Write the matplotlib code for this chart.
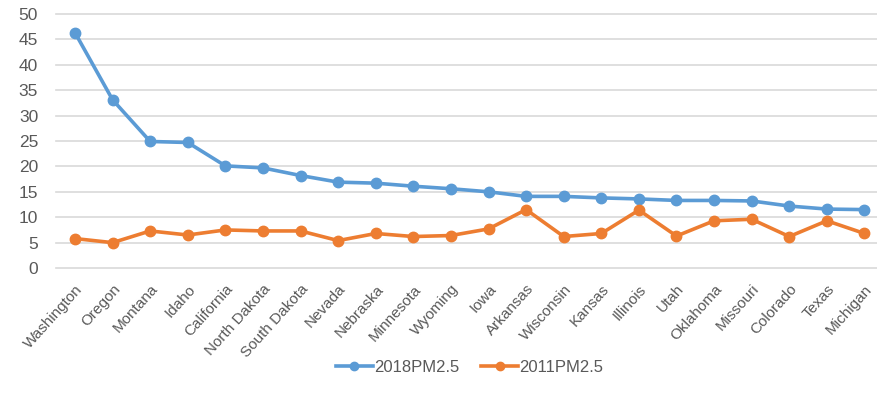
import matplotlib.pyplot as plt
import numpy as np

plt.rcParams['font.family'] = ['Liberation Sans', 'DejaVu Sans']

states = ['Washington', 'Oregon', 'Montana', 'Idaho', 'California', 'North Dakota',
          'South Dakota', 'Nevada', 'Nebraska', 'Minnesota', 'Wyoming', 'Iowa',
          'Arkansas', 'Wisconsin', 'Kansas', 'Illinois', 'Utah', 'Oklahoma',
          'Missouri', 'Colorado', 'Texas', 'Michigan']
pm2018 = [46.3, 33.1, 24.9, 24.7, 20.1, 19.7, 18.2, 16.9, 16.7, 16.1, 15.6, 15.0,
          14.1, 14.1, 13.8, 13.6, 13.3, 13.3, 13.2, 12.2, 11.6, 11.5]
pm2011 = [5.8, 5.0, 7.3, 6.5, 7.5, 7.3, 7.3, 5.4, 6.8, 6.2, 6.4, 7.7,
          11.5, 6.2, 6.8, 11.4, 6.3, 9.3, 9.6, 6.2, 9.3, 6.8]

fig = plt.figure(figsize=(8.78, 4.08), dpi=100)
ax = fig.add_axes([0.064, 0.343, 0.942, 0.623])

x = np.arange(len(states))
ax.plot(x, pm2018, color='#5B9BD5', lw=2.6, marker='o', ms=7.5, label='2018PM2.5')
ax.plot(x, pm2011, color='#ED7D31', lw=2.6, marker='o', ms=7.5, label='2011PM2.5')

ax.set_xlim(-0.5, len(states) - 0.5)
ax.set_ylim(0, 50)
ax.set_yticks(range(0, 51, 5))
ax.grid(axis='y', color='#D9D9D9', lw=1.2)
for g in ax.get_ygridlines():
    g.set_clip_on(False)
ax.set_axisbelow(True)
for s in ax.spines.values():
    s.set_visible(False)
ax.tick_params(length=0, colors='#595959', labelsize=12.5)
ax.tick_params(axis='y', pad=13)
ax.set_xticks(x)
ax.set_xticklabels(states, rotation=48, ha='right', rotation_mode='anchor', fontsize=11)
ax.tick_params(axis='x', pad=10)

ax.legend(loc='center', bbox_to_anchor=(0.5, -0.39), ncol=2, frameon=False,
          fontsize=12, labelcolor='#595959', handlelength=2.2, handletextpad=0.1,
          columnspacing=1.3, markerscale=0.8)

fig.savefig('out.png', dpi=100)
